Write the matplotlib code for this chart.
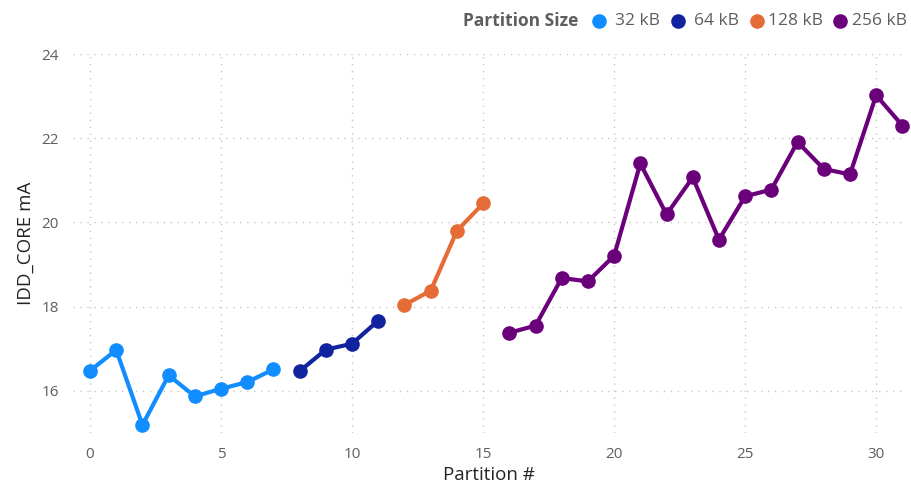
import matplotlib.pyplot as plt
from matplotlib.lines import Line2D

plt.rcParams['font.family'] = ['Open Sans', 'DejaVu Sans']

# IDD_CORE current per partition, grouped by partition size
sizes = ["32 kB", "64 kB", "128 kB", "256 kB"]
colors = ["#118DFF", "#12239E", "#E66C37", "#6B007B"]

part_32 = [0, 1, 2, 3, 4, 5, 6, 7]
idd_32 = [16.48, 16.97, 15.19, 16.37, 15.87, 16.05, 16.21, 16.51]
part_64 = [8, 9, 10, 11]
idd_64 = [16.47, 16.98, 17.12, 17.67]
part_128 = [12, 13, 14, 15]
idd_128 = [18.04, 18.38, 19.80, 20.45]
part_256 = [16, 17, 18, 19, 20, 21, 22, 23, 24, 25, 26, 27, 28, 29, 30, 31]
idd_256 = [17.38, 17.55, 18.68, 18.60, 19.21, 21.40, 20.19, 21.07,
           19.59, 20.62, 20.78, 21.91, 21.27, 21.14, 23.02, 22.30]

xticks = [0, 5, 10, 15, 20, 25, 30]
yticks = [16, 18, 20, 22, 24]

W, H = 912, 487
fig = plt.figure(figsize=(W / 100, H / 100), dpi=100)
ax = fig.add_axes([73 / W, 1 - 433 / H, 832 / W, 379 / H])

series = [(part_32, idd_32), (part_64, idd_64), (part_128, idd_128), (part_256, idd_256)]
for (xs, ys), c in zip(series, colors):
    ax.plot(xs, ys, color=c, lw=3, marker='o', ms=9.5, zorder=3, clip_on=False,
            solid_joinstyle='round', solid_capstyle='round')

ax.set_xlim(-0.65, 31.1)
ax.set_ylim(15.0, 24.0)
ax.set_xticks(xticks)
ax.set_yticks(yticks)
ax.grid(True, color='#C8C6C4', linestyle=(0, (1, 4)), linewidth=1)
for s in ax.spines.values():
    s.set_visible(False)
ax.tick_params(length=0, labelsize=11, labelcolor='#605E5C')
ax.tick_params(axis='x', pad=10)
ax.tick_params(axis='y', pad=10)
ax.set_xlabel("Partition #", fontsize=13.5, color='#252423', labelpad=3)
ax.set_ylabel("IDD_CORE mA", fontsize=13.5, color='#252423', labelpad=5)

# legend across the top, laid out by hand
ly = 1 - 21 / H
fig.text(578 / W, ly, "Partition Size", ha='right', va='center',
         fontsize=12.5, fontweight='bold', color='#605E5C')
dot_x = [599, 678, 757, 840]
text_x = [615, 694, 768, 852]
for name, c, dx, tx in zip(sizes, colors, dot_x, text_x):
    fig.add_artist(Line2D([dx / W], [ly], marker='o', ls='', ms=9.5, color=c))
    fig.text(tx / W, ly, name, ha='left', va='center',
             fontsize=12.5, color='#605E5C')

fig.savefig("out.png", dpi=100)
